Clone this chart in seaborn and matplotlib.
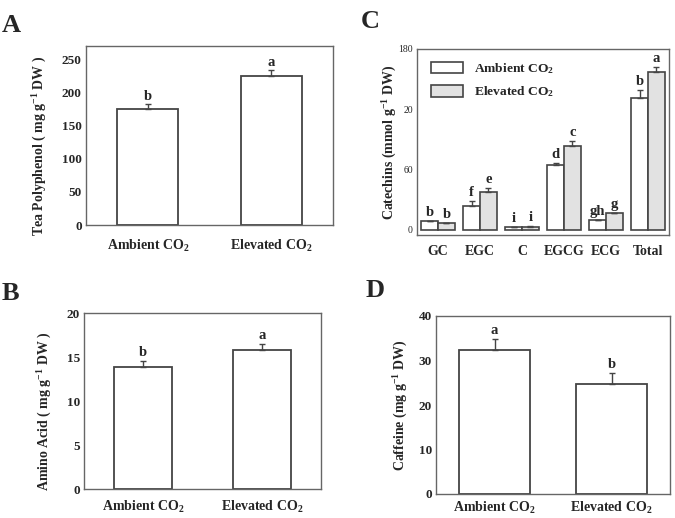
import numpy as np
import pandas as pd
import matplotlib
matplotlib.use("Agg")
import matplotlib.pyplot as plt
import seaborn as sns

# ---------------- data ----------------
treatments = ["Ambient CO$_2$", "Elevated CO$_2$"]

polyphenol = [174.5, 224.0]
polyphenol_err = [8.0, 10.0]
polyphenol_sig = ["b", "a"]

amino = [13.85, 15.75]
amino_err = [0.75, 0.75]
amino_sig = ["b", "a"]

caffeine = [32.4, 24.8]
caffeine_err = [2.4, 2.4]
caffeine_sig = ["a", "b"]

catechin_types = ["GC", "EGC", "C", "EGCG", "ECG", "Total"]
catechin_ambient = [9.0, 24.2, 2.7, 65.1, 10.3, 130.8]
catechin_ambient_err = [0.0, 4.7, 0.3, 1.9, 0.0, 8.3]
catechin_elevated = [7.0, 37.5, 3.3, 83.3, 16.6, 156.7]
catechin_elevated_err = [0.0, 4.7, 0.3, 4.7, 0.0, 5.3]
catechin_ambient_sig = ["b", "f", "i", "d", "gh", "b"]
catechin_elevated_sig = ["b", "e", "i", "c", "g", "a"]
catechin_yticks = [0, 60, 120, 180]
catechin_yticklabels = ["0", "60", "20", "180"]

# ---------------- style ----------------
sns.set_theme(style="white")
plt.rcParams["font.family"] = ["Liberation Serif", "DejaVu Serif"]
plt.rcParams["font.weight"] = "bold"
plt.rcParams["mathtext.fontset"] = "custom"
plt.rcParams["mathtext.rm"] = "Liberation Serif:bold"
plt.rcParams["mathtext.bf"] = "Liberation Serif:bold"
plt.rcParams["mathtext.it"] = "Liberation Serif:italic:bold"
plt.rcParams["mathtext.default"] = "regular"

W, H = 675, 518
fig = plt.figure(figsize=(W / 100, H / 100), dpi=100)


def add_ax(left, right, top, bottom):
    return fig.add_axes([left / W, 1 - bottom / H, (right - left) / W, (bottom - top) / H])


EDGE = "#444444"
SPINE = "#666666"


def style_axes(ax):
    for s in ax.spines.values():
        s.set_color(SPINE)
        s.set_linewidth(1.0)
    ax.tick_params(axis="both", direction="in", length=3, width=0.8, color=SPINE)


def simple_panel(ax, values, errs, sigs, ylim, yticks, ylabel, width, pad,
                 ylab_xy, sig_off):
    df = pd.DataFrame({"Treatment": treatments, "Value": values})
    sns.barplot(data=df, x="Treatment", y="Value", ax=ax, color="white",
                edgecolor=EDGE, linewidth=1.3, width=width, errorbar=None)
    xs = np.arange(len(values))
    ax.errorbar(xs, values, yerr=[np.zeros(len(errs)), errs], fmt="none",
                ecolor=EDGE, elinewidth=1.0, capsize=2.5, capthick=1.0)
    for x, v, e, s in zip(xs, values, errs, sigs):
        ax.text(x, v + e + sig_off, s, ha="center", va="bottom",
                fontsize=10.5, fontweight="bold")
    ax.set_xlim(-0.5, 1.5)
    ax.set_ylim(*ylim)
    ax.set_yticks(yticks)
    ax.set_yticklabels([str(t) for t in yticks], fontsize=9.5, fontweight="bold")
    ax.set_xticks(xs)
    ax.set_xticklabels(treatments, fontsize=10, fontweight="bold")
    ax.set_xlabel("")
    ax.set_ylabel(ylabel, fontsize=10, fontweight="bold")
    ax.yaxis.set_label_coords(*ylab_xy)
    style_axes(ax)
    ax.tick_params(axis="x", pad=pad)
    ax.tick_params(axis="y", pad=3)


# Panel A
axA = add_ax(86, 333, 46, 225)
simple_panel(axA, polyphenol, polyphenol_err, polyphenol_sig, (0, 270),
             [0, 50, 100, 150, 200, 250],
             "Tea Polyphenol ( mg g$^{-1}$ DW )", 0.49, 9, (-0.15, 0.44), 2)

# Panel B
axB = add_ax(84, 321, 313, 489)
simple_panel(axB, amino, amino_err, amino_sig, (0, 20),
             [0, 5, 10, 15, 20],
             "Amino Acid ( mg g$^{-1}$ DW )", 0.49, 7, (-0.126, 0.44), 0.2)

# Panel D
axD = add_ax(436, 670, 316, 494)
simple_panel(axD, caffeine, caffeine_err, caffeine_sig, (0, 40),
             [0, 10, 20, 30, 40],
             "Caffeine (mg g$^{-1}$ DW)", 0.6, 4, (-0.11, 0.5), 0.5)

# Panel C
axC = add_ax(417, 669, 49, 235)
dfc = pd.DataFrame({
    "Catechin": catechin_types * 2,
    "Value": catechin_ambient + catechin_elevated,
    "Treatment": [treatments[0]] * len(catechin_types) + [treatments[1]] * len(catechin_types),
})
sns.barplot(data=dfc, x="Catechin", y="Value", hue="Treatment", ax=axC,
            palette=["white", "#e2e2e2"], edgecolor=EDGE, linewidth=1.2,
            width=0.8, errorbar=None, saturation=1)
n = len(catechin_types)
bars = [p for p in axC.patches if p.get_height() > 0][: 2 * n]
xs_a = [b.get_x() + b.get_width() / 2 for b in bars[:n]]
xs_e = [b.get_x() + b.get_width() / 2 for b in bars[n:]]
for xs, vals, errs, sigs in [(xs_a, catechin_ambient, catechin_ambient_err, catechin_ambient_sig),
                             (xs_e, catechin_elevated, catechin_elevated_err, catechin_elevated_sig)]:
    axC.errorbar(xs, vals, yerr=[np.zeros(n), errs], fmt="none", ecolor=EDGE,
                 elinewidth=1.0, capsize=2, capthick=1.0)
    for x, v, e, s in zip(xs, vals, errs, sigs):
        axC.text(x, v + e + 2, s, ha="center", va="bottom", fontsize=10.5,
                 fontweight="bold")
axC.set_xlim(-0.5, n - 0.5)
axC.set_ylim(-5, 180)
axC.set_yticks(catechin_yticks)
axC.set_yticklabels(catechin_yticklabels, fontsize=7, fontweight="normal")
axC.set_xticks(range(n))
axC.set_xticklabels(catechin_types, fontsize=10, fontweight="bold")
axC.set_xlabel("")
axC.set_ylabel("Catechins (mmol g$^{-1}$ DW)", fontsize=10, fontweight="bold")
axC.yaxis.set_label_coords(-0.071, 0.5)
style_axes(axC)
axC.tick_params(axis="x", length=0, pad=7)
axC.tick_params(axis="y", pad=3)
leg = axC.legend(loc="upper left", bbox_to_anchor=(0.055, 0.935), frameon=False,
                 fontsize=9.7, handlelength=2.4, handleheight=0.9,
                 labelspacing=0.65, handletextpad=0.8, borderpad=0,
                 borderaxespad=0)
for t in leg.get_texts():
    t.set_fontweight("bold")

# Panel letters
for lab, (x, y) in {"A": (2, 32), "B": (2, 300), "C": (361, 28), "D": (366, 297)}.items():
    fig.text(x / W, 1 - y / H, lab, fontsize=19, fontweight="bold",
             ha="left", va="baseline")

fig.savefig("out.png", dpi=100, facecolor="white")
